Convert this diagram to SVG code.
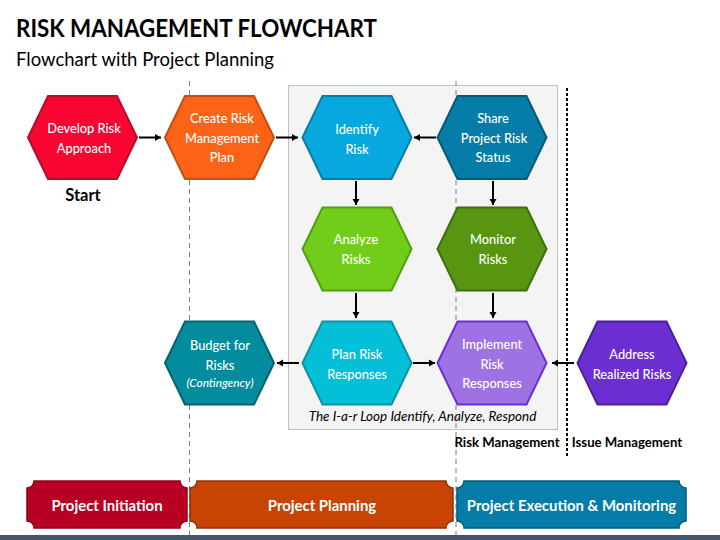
<svg xmlns="http://www.w3.org/2000/svg" width="720" height="540" viewBox="0 0 720 540">
<style>
text{font-family:"Lato","Carlito","Open Sans",sans-serif;text-anchor:middle}
.l{font-size:12.800px;fill:#fff;font-weight:500}
.h{stroke-width:2}
.c{stroke:#000;stroke-width:2;fill:none;marker-end:url(#a)}
.p{font-size:14.900px;font-weight:700;fill:#fff}
.m{font-size:13.200px;font-weight:700;fill:#000}
</style>
<defs>
<marker id="a" markerUnits="userSpaceOnUse" markerWidth="8" markerHeight="8" refX="6" refY="4" orient="auto"><path d="M0 0.5L6 4L0 7.5Z" fill="#000"/></marker>
<polygon id="hex" points="-54.5,0 -34.500,-41.5 34.500,-41.5 54.5,0 34.500,41.5 -34.500,41.5"/>
</defs>
<rect width="720" height="540" fill="#fff"/>
<text x="16" y="37" style="text-anchor:start;font-size:24px;font-weight:700" fill="#000" textLength="361" lengthAdjust="spacingAndGlyphs">RISK MANAGEMENT FLOWCHART</text>
<text x="16" y="66" style="text-anchor:start;font-size:18.500px" fill="#000">Flowchart with Project Planning</text>
<rect id="loop" x="288.5" y="85.5" width="269" height="344" fill="#f4f4f4" stroke="#bfbfbf" stroke-width="1"/>
<g id="guides" fill="none">
<path d="M189.5 81V535M456 81V535" stroke="#7f7f7f" stroke-width="1" stroke-dasharray="5 4"/>
<path d="M567 88V456" stroke="#000" stroke-width="2" stroke-dasharray="3 2"/>
</g>
<g id="connectors">
<path class="c" d="M139 137.500H161"/>
<path class="c" d="M276 137.500H298"/>
<path class="c" d="M436 137.500H414"/>
<path class="c" d="M356 181V205"/>
<path class="c" d="M493 181V205"/>
<path class="c" d="M356 293V318"/>
<path class="c" d="M493 293V318"/>
<path class="c" d="M299 363H277"/>
<path class="c" d="M413 363H435"/>
<path class="c" d="M574 363H552"/>
</g>
<g id="develop"><use href="#hex" transform="translate(82.500 137.500)" fill="#f80532" stroke="#b30d2c" class="h"/><text class="l" x="84" y="133">Develop Risk</text><text class="l" x="84" y="153">Approach</text></g>
<g id="create"><use href="#hex" transform="translate(219.500 137.500)" fill="#fd6317" stroke="#c04f15" class="h"/><text class="l" x="222" y="123">Create Risk</text><text class="l" x="222" y="143">Management</text><text class="l" x="222" y="162">Plan</text></g>
<g id="identify"><use href="#hex" transform="translate(357 137.500)" fill="#07a8dd" stroke="#0a7ca6" class="h"/><text class="l" x="357" y="134">Identify</text><text class="l" x="357" y="154">Risk</text></g>
<g id="share"><use href="#hex" transform="translate(492 137.500)" fill="#067da8" stroke="#055a78" class="h"/><text class="l" x="493" y="123">Share</text><text class="l" x="494" y="143">Project Risk</text><text class="l" x="493" y="162">Status</text></g>
<g id="analyze"><use href="#hex" transform="translate(357 249)" fill="#72cd1a" stroke="#569c14" class="h"/><text class="l" x="356" y="244">Analyze</text><text class="l" x="356" y="264">Risks</text></g>
<g id="monitor"><use href="#hex" transform="translate(492 249)" fill="#589612" stroke="#3f6e0d" class="h"/><text class="l" x="493" y="244">Monitor</text><text class="l" x="493" y="264">Risks</text></g>
<g id="plan"><use href="#hex" transform="translate(357 363)" fill="#03bfd7" stroke="#0a93a6" class="h"/><text class="l" x="357" y="359">Plan Risk</text><text class="l" x="357" y="379">Responses</text></g>
<g id="budget"><use href="#hex" transform="translate(219.500 363)" fill="#028c9e" stroke="#04636f" class="h"/><text class="l" x="220" y="350">Budget for</text><text class="l" x="220" y="370">Risks</text><text class="l" x="220" y="387" style="font-size:11.800px;font-style:italic">(Contingency)</text></g>
<g id="implement"><use href="#hex" transform="translate(492 363)" fill="#9f72e3" stroke="#6a30d2" class="h"/><text class="l" x="492" y="349">Implement</text><text class="l" x="492" y="369">Risk</text><text class="l" x="492" y="388">Responses</text></g>
<g id="address"><use href="#hex" transform="translate(632 363)" fill="#6a2ed2" stroke="#4a2196" class="h"/><text class="l" x="632" y="359">Address</text><text class="l" x="632" y="379">Realized Risks</text></g>
<text x="83" y="201" style="font-size:16.500px;font-weight:700" fill="#000">Start</text>
<text x="422.500" y="421" style="font-size:13.500px;font-style:italic" fill="#000">The I-a-r Loop Identify, Analyze, Respond</text>
<text class="m" x="507" y="447">Risk Management</text>
<text class="m" x="627" y="447">Issue Management</text>
<g id="initiation"><path d="M34 481H180A7 7 0 0 0 187 488V521A7 7 0 0 0 180 528H34A7 7 0 0 0 27 521V488A7 7 0 0 0 34 481Z" fill="#b80024" stroke="#8f001c" stroke-width="1.500"/><text class="p" x="107" y="511">Project Initiation</text></g>
<g id="planning"><path d="M197 481H446A7 7 0 0 0 453 488V521A7 7 0 0 0 446 528H197A7 7 0 0 0 190 521V488A7 7 0 0 0 197 481Z" fill="#c84405" stroke="#933204" stroke-width="1.500"/><text class="p" x="322" y="511">Project Planning</text></g>
<g id="execution"><path d="M464 481H679A7 7 0 0 0 686 488V521A7 7 0 0 0 679 528H464A7 7 0 0 0 457 521V488A7 7 0 0 0 464 481Z" fill="#067da8" stroke="#055a78" stroke-width="1.500"/><text class="p" x="571.500" y="511">Project Execution &amp; Monitoring</text></g>
<rect id="footer" y="535" width="720" height="5" fill="#44546a"/>
</svg>
